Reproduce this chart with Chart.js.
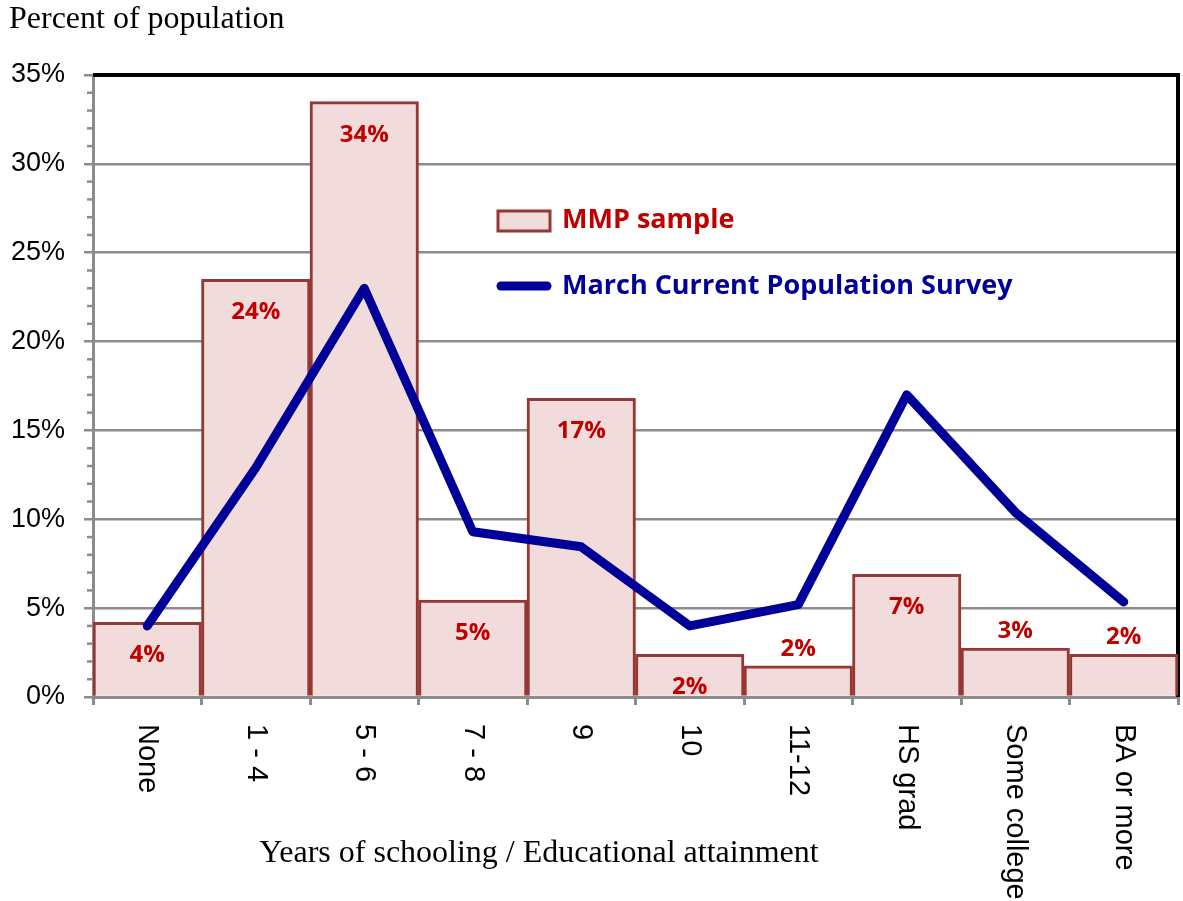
<!DOCTYPE html>
<html>
<head>
<meta charset="utf-8">
<script src="https://cdn.jsdelivr.net/npm/chart.js@4.4.1/dist/chart.umd.min.js"></script>
<style>
  html, body { margin: 0; padding: 0; background: #fff; }
  #wrap { width: 1183px; height: 901px; position: relative; }
</style>
</head>
<body>
<div id="wrap"><canvas id="schoolChart"></canvas></div>
<script>
const categories = ["None", "1 - 4", "5 - 6", "7 - 8", "9", "10", "11-12", "HS grad", "Some college", "BA or more"];
const mmpSample = [4.2, 23.5, 33.5, 5.45, 16.8, 2.4, 1.75, 6.9, 2.75, 2.4];
const cpsMarch = [4.0, 12.9, 23.0, 9.3, 8.45, 4.0, 5.2, 17.0, 10.4, 5.35];
const yTicks = [0, 5, 10, 15, 20, 25, 30, 35];
const seriesNames = ["MMP sample", "March Current Population Survey"];

// where each bar label sits: inside the top of the bar or just above it
const labelPlacement = ["in", "in", "in", "in", "in", "in", "out", "in", "out", "out"];

const barFill = "#F2DCDB";
const barLine = "#953735";
const lineBlue = "#000099";
const labelRed = "#C00000";
const gridGray = "#8c8c8c";

const ctx = document.getElementById("schoolChart");

// black frame on top and right of the plot, drawn under the bars
const framePlugin = {
  id: "frame",
  beforeDatasetsDraw(chart) {
    const { ctx, chartArea } = chart;
    ctx.save();
    ctx.strokeStyle = "#000";
    ctx.lineWidth = 4;
    ctx.beginPath();
    ctx.moveTo(chartArea.left, chartArea.top);
    ctx.lineTo(chartArea.right, chartArea.top);
    ctx.lineTo(chartArea.right, chartArea.bottom);
    ctx.stroke();
    ctx.restore();
  }
};

const extrasPlugin = {
  id: "extras",
  afterDraw(chart) {
    const { ctx, chartArea } = chart;
    const x = chart.scales.x;
    const y = chart.scales.y;
    ctx.save();

    // minor ticks on the y axis
    ctx.strokeStyle = gridGray;
    ctx.lineWidth = 2.5;
    for (let v = 0; v <= 35; v++) {
      if (v % 5 === 0) continue;
      const py = y.getPixelForValue(v);
      ctx.beginPath();
      ctx.moveTo(chartArea.left - 6, py);
      ctx.lineTo(chartArea.left, py);
      ctx.stroke();
    }

    // bar value labels
    ctx.font = "bold 24px 'Open Sans'";
    ctx.fillStyle = labelRed;
    ctx.textAlign = "center";
    ctx.textBaseline = "middle";
    mmpSample.forEach((v, i) => {
      const px = x.getPixelForValue(i);
      const top = y.getPixelForValue(v);
      const py = labelPlacement[i] === "in" ? top + 33 : top - 17;
      ctx.fillText(Math.round(v) + "%", px, py);
    });

    // category labels, turned clockwise
    ctx.font = "29px 'Liberation Sans'";
    ctx.fillStyle = "#000";
    ctx.textAlign = "left";
    categories.forEach((c, i) => {
      ctx.save();
      ctx.translate(x.getPixelForValue(i), chartArea.bottom + 27);
      ctx.rotate(Math.PI / 2);
      ctx.fillText(c, 0, 0);
      ctx.restore();
    });

    // axis titles
    ctx.font = "32px 'Liberation Serif'";
    ctx.textBaseline = "alphabetic";
    ctx.textAlign = "left";
    ctx.fillText("Percent of population", 9, 28);
    ctx.textAlign = "center";
    ctx.textBaseline = "middle";
    ctx.fillText("Years of schooling / Educational attainment", 539, 854);

    // legend
    ctx.fillStyle = barFill;
    ctx.strokeStyle = barLine;
    ctx.lineWidth = 3;
    ctx.fillRect(498, 211, 52, 20);
    ctx.strokeRect(498, 211, 52, 20);
    ctx.strokeStyle = lineBlue;
    ctx.lineWidth = 9;
    ctx.lineCap = "round";
    ctx.beginPath();
    ctx.moveTo(501, 286);
    ctx.lineTo(547, 286);
    ctx.stroke();

    ctx.font = "bold 27px 'Open Sans'";
    ctx.textAlign = "left";
    ctx.fillStyle = labelRed;
    ctx.fillText(seriesNames[0], 562, 220);
    ctx.fillStyle = lineBlue;
    ctx.fillText(seriesNames[1], 562, 286);

    ctx.restore();
  }
};

let chart = new Chart(ctx, {
  type: "bar",
  data: {
    labels: categories,
    datasets: [
      {
        type: "line",
        label: seriesNames[1],
        data: cpsMarch,
        borderColor: lineBlue,
        borderWidth: 9,
        pointRadius: 0,
        tension: 0,
        fill: false,
        borderJoinStyle: "round",
        borderCapStyle: "round",
        order: 0
      },
      {
        type: "bar",
        label: seriesNames[0],
        data: mmpSample,
        backgroundColor: barFill,
        borderColor: barLine,
        borderWidth: 3,
        barPercentage: 1,
        categoryPercentage: 1,
        order: 1
      }
    ]
  },
  options: {
    responsive: true,
    maintainAspectRatio: false,
    animation: false,
    layout: {
      padding: { top: 75, right: 5, left: 0, bottom: 0 }
    },
    plugins: {
      legend: { display: false },
      tooltip: { enabled: false }
    },
    scales: {
      x: {
        offset: true,
        grid: {
          offset: true,
          drawOnChartArea: false,
          drawTicks: true,
          tickLength: 8,
          color: gridGray,
          lineWidth: 3
        },
        border: { color: gridGray, width: 3 },
        ticks: { display: false },
        afterFit(scale) {
          scale.height = 204;
        }
      },
      y: {
        min: 0,
        max: 35,
        afterBuildTicks(scale) {
          scale.ticks = yTicks.map(v => ({ value: v }));
        },
        ticks: {
          padding: 19,
          color: "#000",
          font: { family: "'Liberation Sans'", size: 27 },
          callback: v => v + "%"
        },
        grid: {
          color: gridGray,
          lineWidth: 2.5,
          tickLength: 9
        },
        border: { color: gridGray, width: 3 },
        afterFit(scale) {
          scale.width = 93;
        }
      }
    }
  },
  plugins: [framePlugin, extrasPlugin]
});
</script>
</body>
</html>
